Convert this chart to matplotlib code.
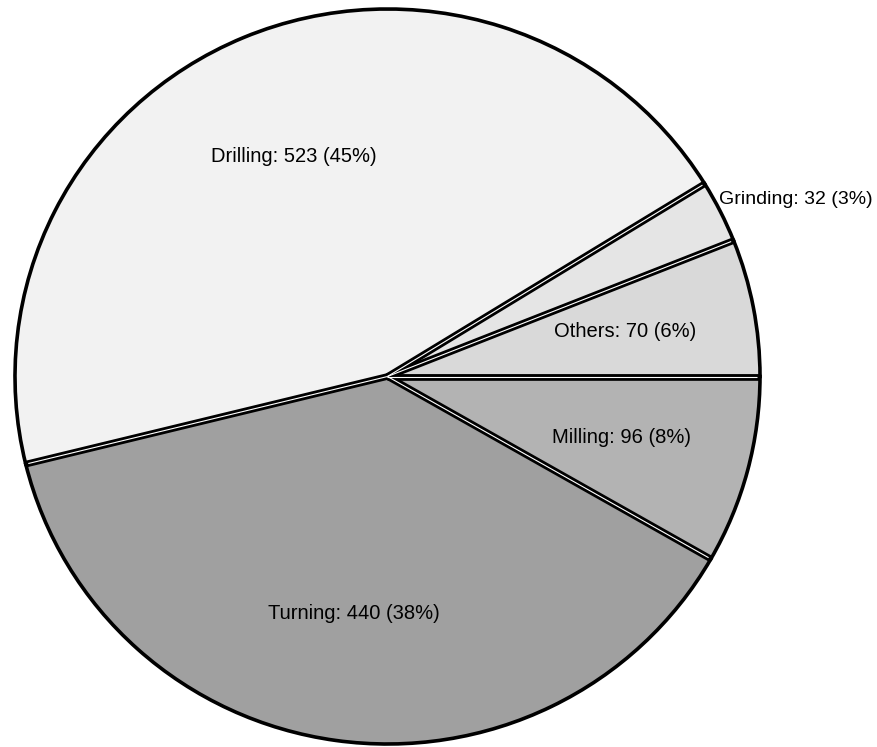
import numpy as np
import matplotlib
matplotlib.use('Agg')
import matplotlib.pyplot as plt

plt.rcParams['font.family'] = ['Liberation Sans', 'DejaVu Sans']

# Machining operations, in drawing order (counter-clockwise from 3 o'clock)
operations = ['Others', 'Grinding', 'Drilling', 'Turning', 'Milling']
counts = [70, 32, 523, 440, 96]
shades = ['#d9d9d9', '#e5e5e5', '#f2f2f2', '#a0a0a0', '#b3b3b3']
outside_labels = ['Grinding']

fig = plt.figure(figsize=(8.78, 7.47), dpi=100)
ax = fig.add_axes([0, 0, 1, 1])

wedges, _ = ax.pie(counts, colors=shades, startangle=0, counterclock=True,
                   radius=1.0, center=(0, 0),
                   wedgeprops=dict(edgecolor='black', linewidth=2.6))

total = sum(counts)
# radial separators: thick black with a thin white core
for w in wedges:
    a = np.deg2rad(w.theta1)
    ax.plot([0, np.cos(a)], [0, np.sin(a)], color='black', lw=4.8,
            solid_capstyle='butt', zorder=3)
    ax.plot([0, 0.993 * np.cos(a)], [0, 0.993 * np.sin(a)], color='white',
            lw=0.8, solid_capstyle='butt', zorder=4)

for w, name, n in zip(wedges, operations, counts):
    mid = np.deg2rad((w.theta1 + w.theta2) / 2)
    label = f'{name}: {n} ({round(100 * n / total)}%)'
    if name in outside_labels:
        ax.text(0.995 * np.cos(mid), 1.02 * np.sin(mid), label,
                ha='left', va='bottom', fontsize=14, zorder=5)
    else:
        ax.text(0.65 * np.cos(mid), 0.65 * np.sin(mid), label,
                ha='center', va='center', fontsize=14.5, zorder=5)

# slightly wider than tall, as in the printed figure
ax.set_aspect('auto')
ax.set_xlim(-387.5 / 372.5, (878 - 387.5) / 372.5)
ax.set_ylim(-(747 - 376.5) / 367.5, 376.5 / 367.5)
ax.axis('off')

fig.savefig('out.png', dpi=100)
